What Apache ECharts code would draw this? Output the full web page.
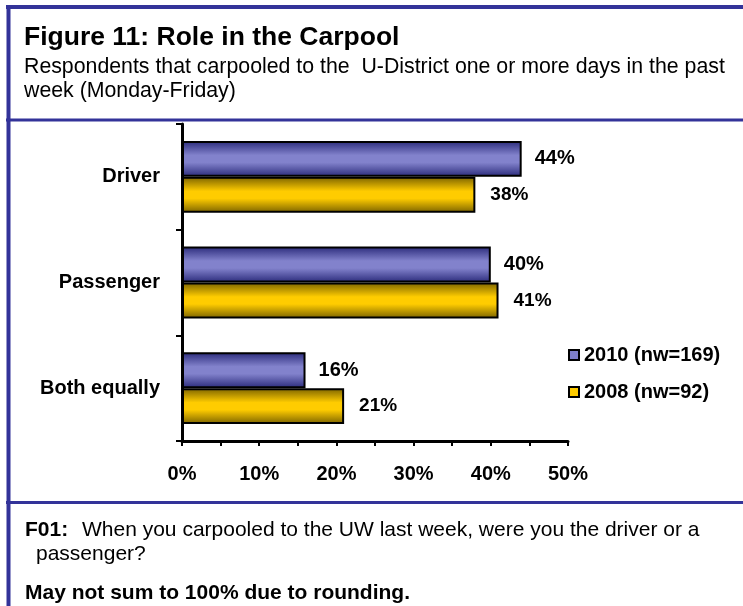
<!DOCTYPE html>
<html>
<head>
<meta charset="utf-8">
<script src="https://cdn.jsdelivr.net/npm/echarts@6/dist/echarts.min.js"></script>
<style>
  html, body { margin: 0; padding: 0; background: #fff; }
  #chart { width: 743px; height: 606px; }
</style>
</head>
<body>
<div id="chart"></div>
<script>
// data
var categories = ['Driver', 'Passenger', 'Both equally'];
var seriesNames = ['2010 (nw=169)', '2008 (nw=92)'];
var values2010 = [44, 40, 16];
var values2008 = [38, 41, 21];
var xTicks = [0, 10, 20, 30, 40, 50];

var FONT = "'Liberation Sans', Arial, sans-serif";
var BORDER = '#333399';

function barGrad(dark, light) {
  return new echarts.graphic.LinearGradient(0, 0, 0, 1, [
    { offset: 0, color: dark },
    { offset: 0.4, color: light },
    { offset: 0.6, color: light },
    { offset: 1, color: dark }
  ]);
}

var myChart = echarts.init(document.getElementById('chart'), null, { renderer: 'canvas' });

myChart.setOption({
  animation: false,
  textStyle: { fontFamily: FONT },
  grid: { left: 182, right: 175, top: 124, bottom: 165, containLabel: false },
  legend: {
    orient: 'vertical',
    left: 563,
    top: 340,
    itemWidth: 10,
    itemHeight: 10,
    itemGap: 17,
    icon: 'rect',
    textStyle: { fontFamily: FONT, fontWeight: 'bold', fontSize: 20, color: '#000' },
    data: [
      { name: seriesNames[0], itemStyle: { color: '#7f7fc8', borderColor: '#000', borderWidth: 2 } },
      { name: seriesNames[1], itemStyle: { color: '#ffcc00', borderColor: '#000', borderWidth: 2 } }
    ]
  },
  xAxis: {
    type: 'value',
    min: xTicks[0],
    max: xTicks[xTicks.length - 1],
    interval: 10,
    splitLine: { show: false },
    axisLine: { show: true, lineStyle: { color: '#000', width: 3 } },
    axisTick: { show: true, length: 5, lineStyle: { color: '#000', width: 2 } },
    minorTick: { show: true, splitNumber: 2, length: 5, lineStyle: { color: '#000', width: 2 } },
    axisLabel: {
      margin: 23,
      formatter: '{value}%',
      fontFamily: FONT, fontWeight: 'bold', fontSize: 20, color: '#000'
    }
  },
  yAxis: {
    type: 'category',
    inverse: true,
    data: categories,
    axisLine: { show: true, lineStyle: { color: '#000', width: 3 } },
    axisTick: { show: true, length: 6, lineStyle: { color: '#000', width: 2 } },
    axisLabel: { margin: 22, fontFamily: FONT, fontWeight: 'bold', fontSize: 20, color: '#000' }
  },
  series: [
    {
      name: seriesNames[0],
      type: 'bar',
      data: values2010,
      barGap: '0%',
      barCategoryGap: '32%',
      itemStyle: { color: barGrad('#2a2a7a', '#8282cc'), borderColor: '#000', borderWidth: 2 },
      label: {
        show: true, position: 'right', distance: 13, formatter: '{c}%',
        fontFamily: FONT, fontWeight: 'bold', fontSize: 20, color: '#000'
      }
    },
    {
      name: seriesNames[1],
      type: 'bar',
      data: values2008,
      itemStyle: { color: barGrad('#7a6200', '#ffcc00'), borderColor: '#000', borderWidth: 2 },
      label: {
        show: true, position: 'right', distance: 15, formatter: '{c}%',
        fontFamily: FONT, fontWeight: 'bold', fontSize: 19, color: '#000'
      }
    }
  ],
  graphic: [
    // frame lines
    { type: 'line', shape: { x1: 8.5, y1: 5, x2: 8.5, y2: 606 }, style: { stroke: BORDER, lineWidth: 4 } },
    { type: 'line', shape: { x1: 6, y1: 7, x2: 743, y2: 7 }, style: { stroke: BORDER, lineWidth: 4 } },
    { type: 'line', shape: { x1: 6, y1: 120, x2: 743, y2: 120 }, style: { stroke: BORDER, lineWidth: 3 } },
    { type: 'line', shape: { x1: 6, y1: 502.5, x2: 743, y2: 502.5 }, style: { stroke: BORDER, lineWidth: 3 } },
    // heading
    { type: 'text', x: 24, y: 38, style: { text: 'Figure 11: Role in the Carpool', font: 'bold 26.5px ' + FONT, fill: '#000', verticalAlign: 'middle' } },
    { type: 'text', x: 24, y: 67.5, style: { text: 'Respondents that carpooled to the  U-District one or more days in the past', font: '21.3px ' + FONT, fill: '#000', verticalAlign: 'middle' } },
    { type: 'text', x: 24, y: 91.5, style: { text: 'week (Monday-Friday)', font: '21.3px ' + FONT, fill: '#000', verticalAlign: 'middle' } },
    // footer
    { type: 'text', x: 25, y: 530, style: { text: 'F01:', font: 'bold 21px ' + FONT, fill: '#000', verticalAlign: 'middle' } },
    { type: 'text', x: 82, y: 530, style: { text: 'When you carpooled to the UW last week, were you the driver or a', font: '21px ' + FONT, fill: '#000', verticalAlign: 'middle' } },
    { type: 'text', x: 36, y: 554, style: { text: 'passenger?', font: '21px ' + FONT, fill: '#000', verticalAlign: 'middle' } },
    { type: 'text', x: 25, y: 593, style: { text: 'May not sum to 100% due to rounding.', font: 'bold 21px ' + FONT, fill: '#000', verticalAlign: 'middle' } }
  ]
});
</script>
</body>
</html>
